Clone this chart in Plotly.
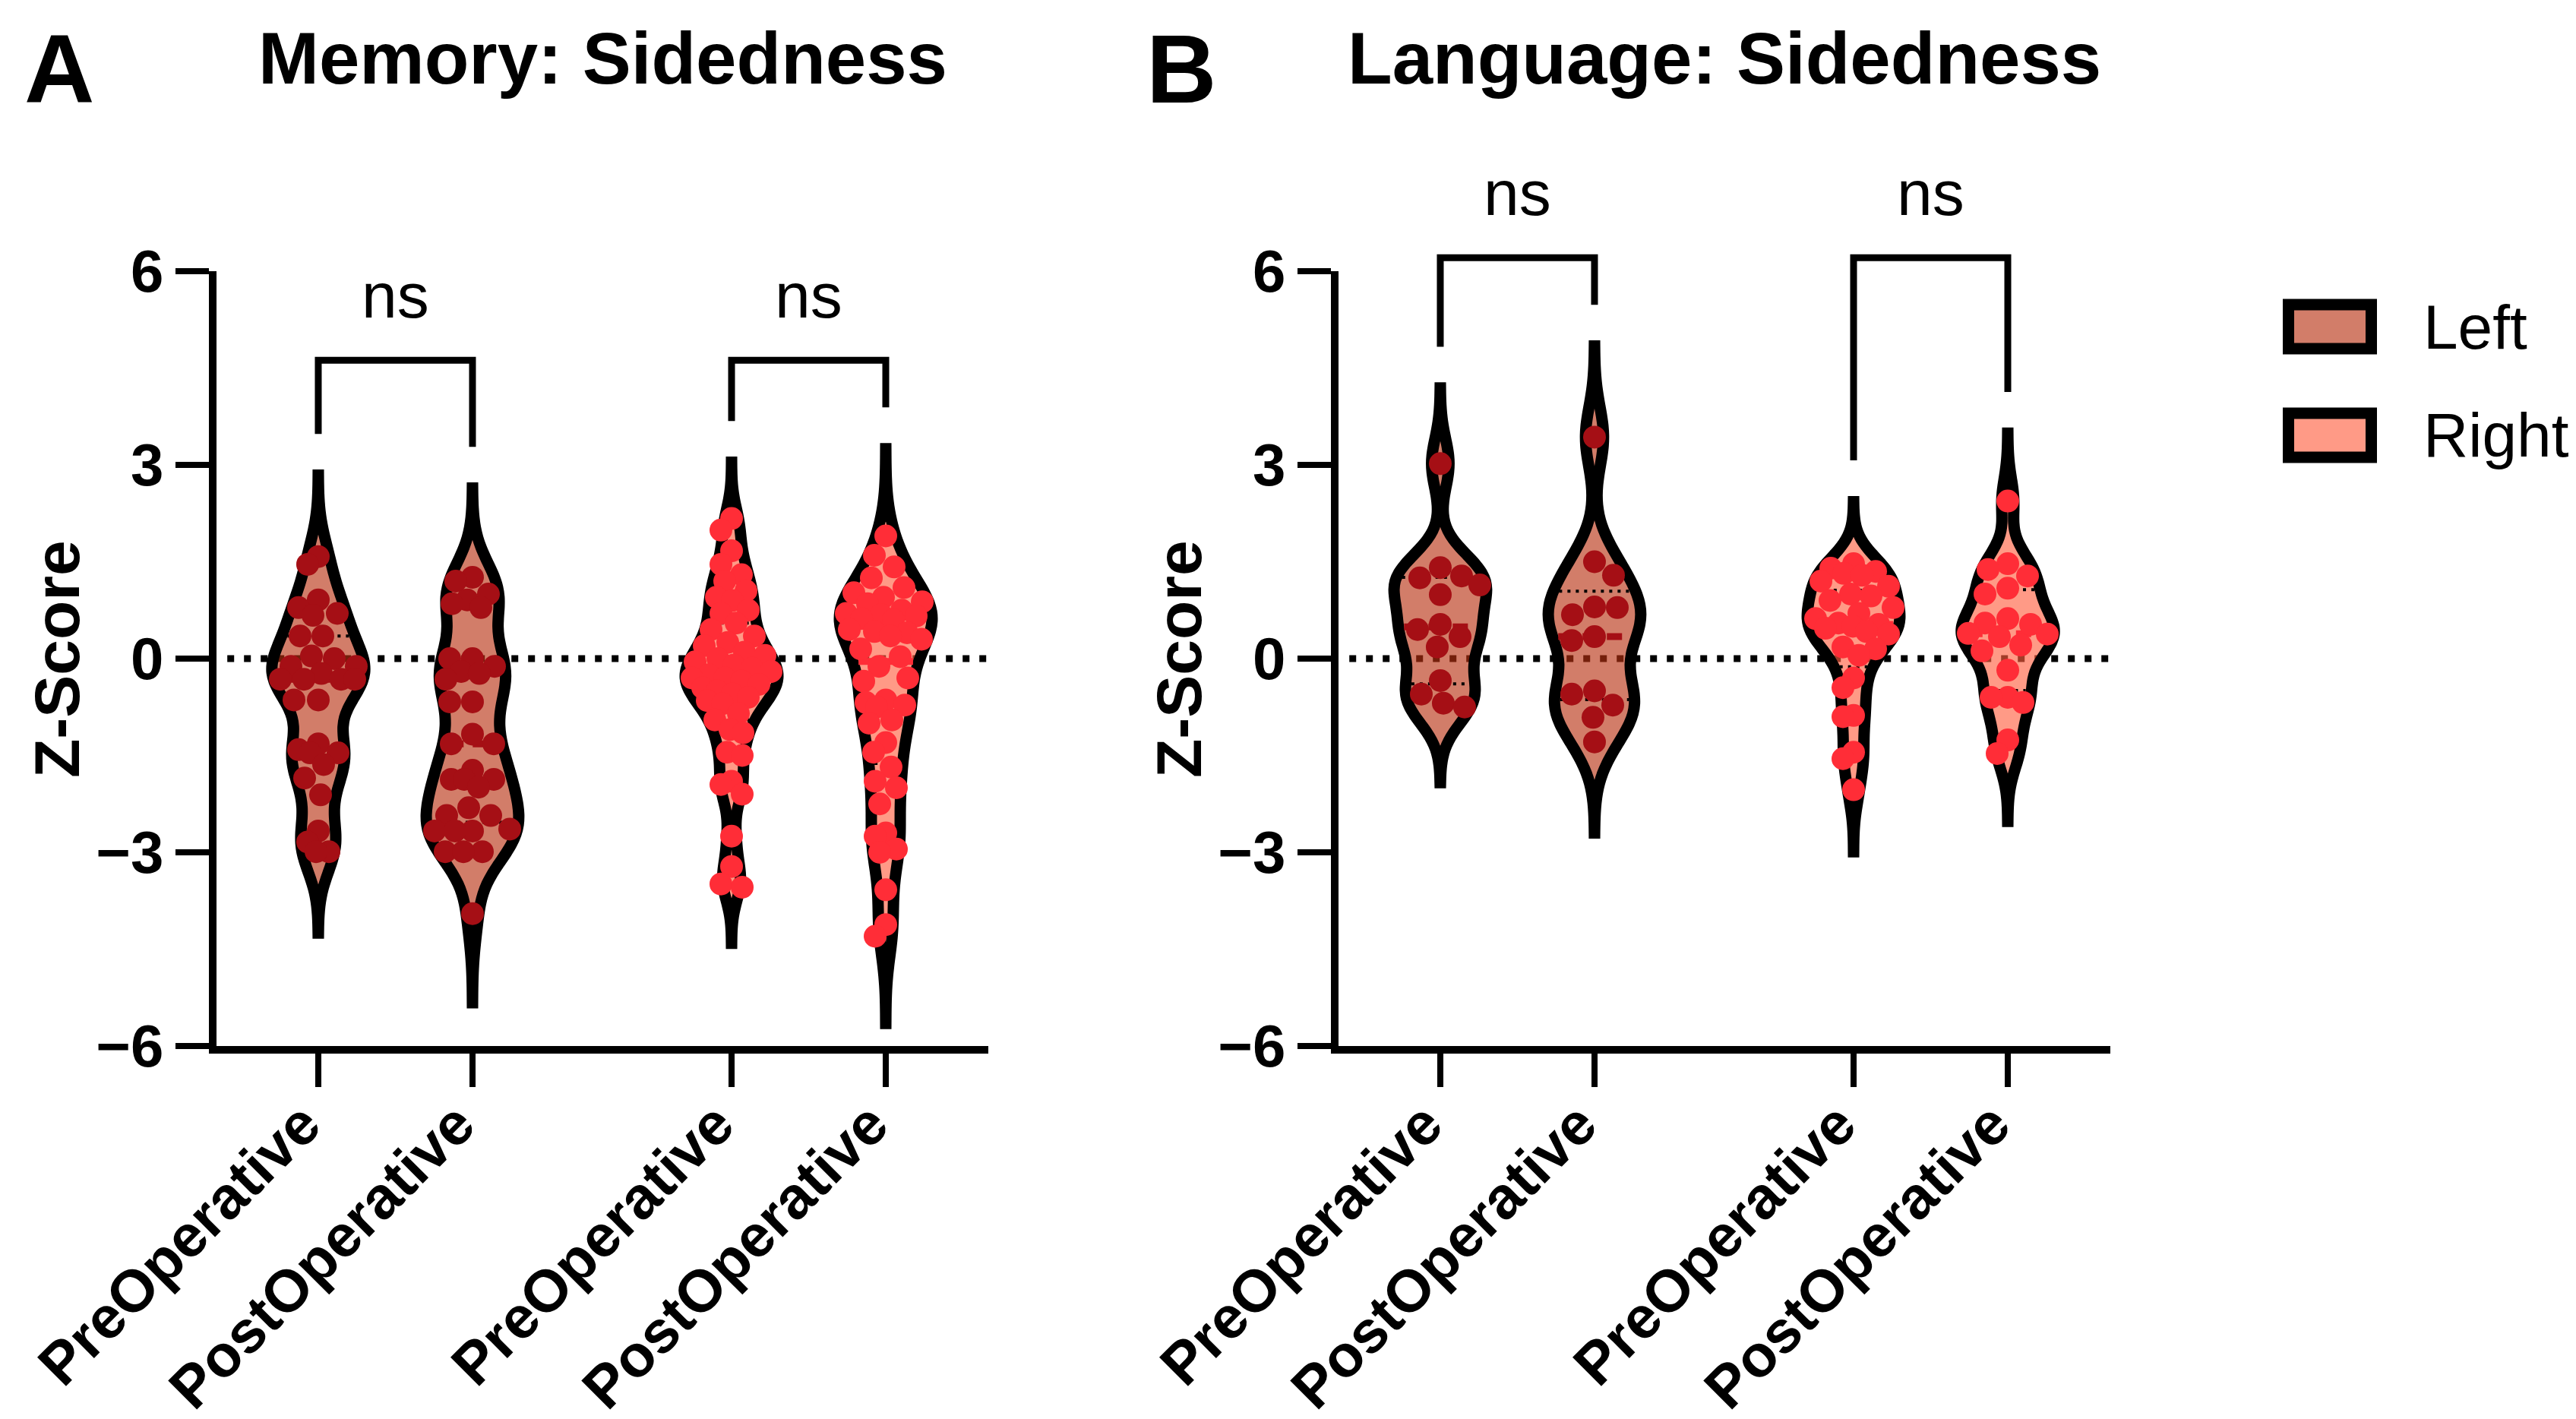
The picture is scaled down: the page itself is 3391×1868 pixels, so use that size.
import numpy as np
import plotly.graph_objects as go

# ---------------- data ----------------
categories = ["PreOperative", "PostOperative", "PreOperative", "PostOperative"]
sides = ["Left", "Left", "Right", "Right"]
cat_pos = [0.0, 1.0, 2.68, 3.68]

mem_pre_left = [1.58, 1.46, 0.91, 0.79, 0.70, 0.67, 0.35, 0.35, 0.04, 0.0, -0.12, -0.12, -0.23,
                -0.32, -0.32, -0.32, -0.32, -0.64, -0.64, -1.32, -1.41, -1.46, -1.46, -1.64,
                -1.85, -2.11, -2.67, -2.84, -2.99, -2.99]
mem_post_left = [1.26, 1.20, 1.0, 0.91, 0.85, 0.79, 0.0, 0.0, -0.12, -0.20, -0.23, -0.32, -0.67,
                 -0.67, -1.17, -1.32, -1.32, -1.73, -1.87, -1.87, -1.87, -1.99, -2.31, -2.43,
                 -2.43, -2.64, -2.67, -2.67, -2.67, -2.99, -2.99, -2.99, -3.95]
mem_pre_right = [2.17, 1.99, 1.67, 1.46, 1.30, 1.20, 1.05, 0.95, 0.90, 0.75, 0.70, 0.55, 0.45,
                 0.35, 0.25, 0.20, 0.10, 0.05, 0.0, -0.05, -0.10, -0.15, -0.20, -0.25, -0.30,
                 -0.30, -0.35, -0.40, -0.45, -0.50, -0.55, -0.60, -0.65, -0.70, -0.85, -0.95,
                 -1.10, -1.15, -1.45, -1.50, -1.90, -1.95, -2.10, -2.75, -3.22, -3.49, -3.54]
mem_post_right = [1.90, 1.60, 1.42, 1.25, 1.10, 1.02, 0.95, 0.88, 0.85, 0.75, 0.70, 0.68, 0.66,
                  0.62, 0.60, 0.45, 0.42, 0.40, 0.35, 0.30, 0.15, 0.03, -0.12, -0.30, -0.35,
                  -0.64, -0.68, -0.72, -0.75, -0.95, -1.00, -1.30, -1.45, -1.68, -1.90, -2.00,
                  -2.25, -2.70, -2.75, -2.95, -3.00, -3.58, -4.12, -4.30]

lang_pre_left = [3.02, 1.41, 1.28, 1.25, 1.14, 0.99, 0.53, 0.45, 0.34, 0.18, -0.34, -0.55, -0.69, -0.75]
lang_post_left = [3.43, 1.50, 1.29, 0.80, 0.79, 0.68, 0.34, 0.28, -0.50, -0.55, -0.72, -0.91, -1.29]
lang_pre_right = [1.47, 1.40, 1.35, 1.32, 1.29, 1.20, 1.12, 1.00, 0.97, 0.90, 0.79, 0.70, 0.62,
                  0.55, 0.53, 0.50, 0.47, 0.42, 0.38, 0.18, 0.15, 0.05, -0.30, -0.45, -0.88,
                  -0.90, -1.45, -1.55, -2.03]
lang_post_right = [2.44, 1.47, 1.38, 1.28, 1.09, 1.00, 0.62, 0.55, 0.53, 0.39, 0.38, 0.34, 0.21,
                   0.12, -0.18, -0.60, -0.60, -0.68, -1.26, -1.47]

mem_bandwidth = [0.42, 0.46, 0.29, 0.45]
lang_bandwidth = [0.39, 0.47, 0.32, 0.35]

sig_labels = ["ns", "ns"]
y_ticks = [-6, -3, 0, 3, 6]
y_tick_labels = ["\u22126", "\u22123", "0", "3", "6"]
panel_titles = ["Memory: Sidedness", "Language: Sidedness"]
panel_letters = ["A", "B"]

panels = [
    [mem_pre_left, mem_post_left, mem_pre_right, mem_post_right],
    [lang_pre_left, lang_post_left, lang_pre_right, lang_post_right],
]
panel_bw = [mem_bandwidth, lang_bandwidth]

# ---------------- styling ----------------
W, H = 3391, 1868
FONT = "Liberation Sans, Arial, Helvetica, sans-serif"
fill_col = {"Left": "rgba(184,49,17,0.63)", "Right": "rgba(255,95,63,0.63)"}
legend_fill = {"Left": "#D27D69", "Right": "#FF9A86"}
dot_col = {"Left": "#A50F15", "Right": "#FF2D37"}

X_RANGE = [-0.66, 4.345]
Y_RANGE = [-6, 6]
x_domains = [[277 / W, 1293 / W], [1754 / W, 2770 / W]]
y_domain = [(H - 1369) / H, (H - 349) / H]
PX_X = (x_domains[0][1] - x_domains[0][0]) * W / (X_RANGE[1] - X_RANGE[0])
PX_Y = (y_domain[1] - y_domain[0]) * H / (Y_RANGE[1] - Y_RANGE[0])

VIOLIN_W = 0.6
VIOLIN_LW = 15
DOT = 30
TAIL = 3.0  # tail length in bandwidths


def to_px(panel, xv):
    d = x_domains[panel]
    return d[0] + (xv - X_RANGE[0]) / (X_RANGE[1] - X_RANGE[0]) * (d[1] - d[0])


def to_py(v):
    return y_domain[0] + (v - Y_RANGE[0]) / (Y_RANGE[1] - Y_RANGE[0]) * (y_domain[1] - y_domain[0])


def kde(vals, bw, grid):
    v = np.asarray(vals, float)[:, None]
    g = np.atleast_1d(np.asarray(grid, float))[None, :]
    return np.exp(-0.5 * ((g - v) / bw) ** 2).sum(0)


def half_width(vals, bw, lo, hi, y):
    grid = np.linspace(lo, hi, 600)
    dmax = kde(vals, bw, grid).max()
    return VIOLIN_W / 2 * kde(vals, bw, y) / dmax


def swarm(vals, bw, lo, hi):
    ys = np.asarray(vals, float) * PX_Y
    hw = half_width(vals, bw, lo, hi, vals) * PX_X
    order = np.argsort(-ys, kind="stable")
    cand = np.arange(-70, 70.5, 1.0)
    placed = []
    offs = np.zeros(len(ys))
    for k, i in enumerate(order):
        lim = max(hw[i] - 8, 14)
        c = cand[np.abs(cand) <= lim]
        if placed:
            P = np.array(placed)
            dist = np.sqrt((c[:, None] - P[None, :, 0]) ** 2 + (ys[i] - P[None, :, 1]) ** 2).min(1)
        else:
            dist = np.full(len(c), np.inf)
        ok = dist >= DOT
        sgn = 1 if k % 2 == 0 else -1
        if ok.any():
            cc = c[ok]
            pick = cc[np.argmin(np.abs(cc) - 0.01 * sgn * cc)]
        else:
            pick = c[np.argmax(dist)]
        offs[i] = pick
        placed.append((pick, ys[i]))
    return offs / PX_X


fig = go.Figure()
shapes = []
annotations = []

for p in range(2):
    xa = "x" if p == 0 else "x2"
    ya = "y" if p == 0 else "y2"
    his = []
    # zero reference line (behind violins)
    shapes.append(dict(type="line", xref=xa, yref=ya, x0=X_RANGE[0] + 0.07, x1=X_RANGE[1] + 0.03,
                       y0=0, y1=0, layer="below",
                       line=dict(color="black", width=9, dash="9px,13px")))
    line_traces = []
    point_traces = []
    for j in range(4):
        vals = panels[p][j]
        bw = panel_bw[p][j]
        side = sides[j]
        lo, hi = min(vals) - TAIL * bw, max(vals) + TAIL * bw
        his.append(hi)
        pos = cat_pos[j]
        fig.add_trace(go.Violin(
            x0=pos, y=vals, xaxis=xa, yaxis=ya, width=VIOLIN_W, bandwidth=bw,
            spanmode="manual", span=[lo, hi], scalemode="width",
            fillcolor=fill_col[side], line=dict(color="black", width=VIOLIN_LW),
            points=False, showlegend=False, hoverinfo="skip", name=side))
        # median & quartiles
        q1, med, q3 = np.percentile(vals, [25, 50, 75], method="weibull")
        for yv, col, wd, dash in [(q1, "black", 4, "4px,7px"), (q3, "black", 4, "4px,7px"),
                                  (med, dot_col[side], 9, "20px,12px")]:
            inner = float(half_width(vals, bw, lo, hi, yv)[0]) - VIOLIN_LW / 2 / PX_X
            line_traces.append(go.Scatter(x=[pos - inner, pos + inner], y=[yv, yv], mode="lines",
                                          xaxis=xa, yaxis=ya, showlegend=False, hoverinfo="skip",
                                          line=dict(color=col, width=wd, dash=dash)))
        offs = swarm(vals, bw, lo, hi)
        point_traces.append(go.Scatter(x=pos + offs, y=vals, mode="markers", xaxis=xa, yaxis=ya,
                                       showlegend=False, hoverinfo="skip",
                                       marker=dict(size=DOT, color=dot_col[side], line=dict(width=0))))
    for t in line_traces + point_traces:
        fig.add_trace(t)

    # significance brackets
    top = max(his) + 1.37
    for k in range(2):
        a, b = 2 * k, 2 * k + 1
        xa0, xb0 = to_px(p, cat_pos[a]), to_px(p, cat_pos[b])
        path = (f"M {xa0},{to_py(his[a] + 0.64)} L {xa0},{to_py(top)} "
                f"L {xb0},{to_py(top)} L {xb0},{to_py(his[b] + 0.64)}")
        shapes.append(dict(type="path", xref="paper", yref="paper", path=path,
                           line=dict(color="black", width=9)))
        annotations.append(dict(xref="paper", yref="paper", x=(xa0 + xb0) / 2, y=to_py(top + 1.0),
                                text=sig_labels[k], showarrow=False, xanchor="center", yanchor="middle",
                                font=dict(family=FONT, size=84, color="black")))

    # titles / letters / y title
    xc = (x_domains[p][0] + x_domains[p][1]) / 2
    annotations.append(dict(xref="paper", yref="paper", x=xc, y=1 - 69 / H, text=panel_titles[p],
                            showarrow=False, xanchor="center", yanchor="middle",
                            font=dict(family=FONT, size=96, color="black", weight="bold")))
    annotations.append(dict(xref="paper", yref="paper", x=x_domains[p][0] - 207 / W, y=1 - 82 / H,
                            text=panel_letters[p], showarrow=False, xanchor="center", yanchor="middle",
                            font=dict(family=FONT, size=128, color="black", weight="bold")))
    annotations.append(dict(xref="paper", yref="paper", x=x_domains[p][0] - 210 / W, y=to_py(0),
                            text="Z-Score", textangle=-90, showarrow=False, xanchor="center",
                            yanchor="middle",
                            font=dict(family=FONT, size=84, color="black", weight="bold")))

# manual legend
for k, side in enumerate(["Left", "Right"]):
    yc = [422, 565][k]
    shapes.append(dict(type="rect", xref="paper", yref="paper",
                       x0=3004.5 / W, x1=3113.5 / W, y0=1 - (yc - 29) / H, y1=1 - (yc + 29) / H,
                       fillcolor=legend_fill[side], line=dict(color="black", width=15)))
    annotations.append(dict(xref="paper", yref="paper", x=3180 / W, y=1 - yc / H, text=side,
                            showarrow=False, xanchor="left", yanchor="middle",
                            font=dict(family=FONT, size=82, color="black")))

axis_common = dict(showline=True, linewidth=10, linecolor="black", ticks="outside", ticklen=44,
                   tickwidth=8, tickcolor="black", showgrid=False, zeroline=False,
                   automargin=False)

layout = dict(
    width=W, height=H, autosize=False, margin=dict(l=0, r=0, t=0, b=0, pad=0, autoexpand=False),
    paper_bgcolor="white", plot_bgcolor="white", violinmode="overlay", showlegend=False,
    shapes=shapes, annotations=annotations,
)
for p in range(2):
    sfx = "" if p == 0 else "2"
    layout["xaxis" + sfx] = dict(axis_common, domain=x_domains[p], range=X_RANGE,
                                 tickvals=cat_pos, ticktext=categories, tickangle=-45,
                                 anchor="y" + sfx, ticklabelstandoff=-28, ticklabelshift=-20,
                                 tickfont=dict(family=FONT, size=78, color="black", weight="bold"))
    layout["yaxis" + sfx] = dict(axis_common, domain=y_domain, range=Y_RANGE, tickvals=y_ticks,
                                 ticktext=y_tick_labels, anchor="x" + sfx,
                                 tickfont=dict(family=FONT, size=78, color="black", weight="bold"))

fig.update_layout(**layout)
fig.write_html("out.html")
